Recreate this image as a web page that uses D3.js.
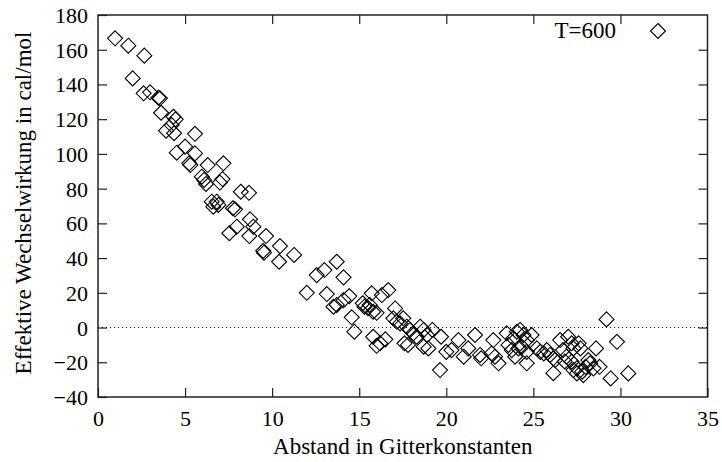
<!DOCTYPE html>
<html lang="de">
<head>
<meta charset="UTF-8">
<title>Effektive Wechselwirkung</title>
<script src="https://d3js.org/d3.v7.min.js"></script>
<style>
  body { margin: 0; background: #fff; }
  text { font-family: "Liberation Serif", "DejaVu Serif", serif; fill: #000; }
</style>
</head>
<body>
<svg width="722" height="462"></svg>
<script>
// abstand (gitterkonstanten) and wechselwirkung (cal/mol)
var abstand = [
  0.98, 1.74, 2.66, 1.99, 2.62, 2.99, 3.47, 3.56, 3.62, 4.33,
  4.46, 4.23, 3.91, 4.37, 5.57, 4.52, 5.0, 5.57, 5.24, 5.3,
  6.3, 7.2, 5.96, 6.09, 7.15, 6.2, 7.0, 8.2, 8.67, 6.53,
  6.82, 6.91, 6.62, 7.87, 7.75, 8.73, 7.97, 8.92, 7.54, 8.69,
  9.65, 10.45, 9.49, 9.53, 11.26, 10.4, 13.71, 13.0, 12.56, 14.1,
  11.99, 13.14, 13.71, 13.52, 14.43, 14.1, 15.2, 15.3, 15.5, 15.6,
  15.72, 16.3, 16.67, 16.0, 15.8, 17.06, 14.57, 14.72, 15.8, 16.2,
  16.5, 16.0, 16.96, 17.16, 17.35, 17.53, 17.73, 17.6, 17.92, 18.1,
  18.3, 18.5, 18.7, 18.9, 19.2, 17.8, 18.7, 18.97, 19.7, 19.64,
  20.0, 20.3, 20.7, 21.0, 21.65, 21.26, 21.94, 22.0, 22.7, 22.6,
  22.8, 23.0, 23.47, 23.85, 24.05, 24.24, 24.43, 24.62, 24.9, 23.57,
  23.76, 23.95, 24.14, 24.34, 24.62, 24.62, 25.2, 25.4, 25.6, 25.77,
  25.96, 26.15, 26.15, 26.25, 26.54, 27.0, 27.2, 26.7, 26.9, 27.2,
  27.5, 29.2, 29.8, 28.6, 29.44, 30.45, 27.3, 27.6, 27.7, 26.8,
  27.3, 27.5, 27.8, 28.0, 28.26, 28.45, 28.8, 28.16, 27.87
];
var wechselwirkung = [
  166.6, 162.3, 156.6, 143.5, 134.9, 135.5, 132.4, 132.0, 123.7, 121.4,
  119.9, 116.6, 113.4, 111.9, 111.6, 100.7, 104.2, 100.3, 94.6, 93.6,
  93.6, 94.6, 86.9, 85.0, 85.5, 82.7, 83.5, 78.2, 77.6, 72.5,
  72.5, 70.6, 69.6, 68.1, 68.7, 62.3, 58.1, 58.1, 54.3, 52.7,
  52.7, 46.9, 44.2, 43.1, 41.8, 37.9, 37.9, 33.1, 30.2, 28.9,
  20.0, 19.3, 13.0, 12.0, 18.1, 15.8, 14.0, 12.0, 11.2, 13.0,
  19.7, 18.7, 21.6, 8.5, 9.1, 11.0, 5.9, -2.4, -5.3, -9.1,
  -6.8, -10.5, 5.3, 3.3, 2.4, 5.3, 0.5, -9.1, -1.4, -3.3,
  -5.3, 0.5, -1.4, -4.3, -1.4, -10.0, -11.0, -12.0, -5.3, -24.5,
  -14.0, -13.0, -7.2, -16.8, -4.3, -12.0, -15.8, -17.7, -7.2, -14.9,
  -16.8, -20.6, -3.3, -6.2, -2.4, -1.4, -4.3, -7.2, -4.3, -10.0,
  -13.0, -16.8, -12.0, -11.0, -14.0, -20.6, -12.0, -14.0, -14.9, -13.0,
  -15.8, -17.7, -26.3, -18.7, -7.2, -5.3, -9.1, -13.0, -16.8, -19.7,
  -23.5, 4.7, -8.2, -12.0, -29.3, -26.4, -12.0, -9.1, -12.0, -19.5,
  -24.5, -26.4, -25.4, -22.6, -20.6, -23.5, -22.6, -18.7, -27.4
];
var xTicks = [0, 5, 10, 15, 20, 25, 30, 35];
var yTicks = [-40, -20, 0, 20, 40, 60, 80, 100, 120, 140, 160, 180];
var legendLabel = "T=600";

var margin = {top: 15, right: 14.5, bottom: 65, left: 98};
var width = 722 - margin.left - margin.right;
var height = 462 - margin.top - margin.bottom;

var svg = d3.select("svg");
var g = svg.append("g").attr("transform", "translate(" + margin.left + "," + margin.top + ")");

var x = d3.scaleLinear().domain([0, 35]).range([0, width]);
var y = d3.scaleLinear().domain([-40, 180]).range([height, 0]);

var tickLen = 9;

// axes with inward ticks (also mirrored on top/right)
var axBottom = g.append("g").attr("transform", "translate(0," + height + ")")
  .call(d3.axisBottom(x).tickValues(xTicks).tickSize(-tickLen).tickPadding(13));
var axLeft = g.append("g")
  .call(d3.axisLeft(y).tickValues(yTicks).tickSize(-tickLen).tickPadding(10));
var axTop = g.append("g")
  .call(d3.axisTop(x).tickValues(xTicks.slice(1, -1)).tickSize(-tickLen).tickFormat(""));
var axRight = g.append("g").attr("transform", "translate(" + width + ",0)")
  .call(d3.axisRight(y).tickValues(yTicks.slice(1, -1)).tickSize(-tickLen).tickFormat(""));

[axBottom, axLeft, axTop, axRight].forEach(function(a) {
  a.select(".domain").remove();
  a.selectAll("line").attr("stroke", "#222").attr("stroke-width", 1.2);
  a.selectAll("text").style("font-family", "'Liberation Serif', serif").style("font-size", "22px").attr("fill", "#000");
});
axLeft.selectAll("text").attr("dy", "0.34em");
axBottom.selectAll("text").attr("dy", "0.71em");

// zero line
g.append("line")
  .attr("x1", x(0)).attr("x2", x(35))
  .attr("y1", y(0)).attr("y2", y(0))
  .attr("stroke", "#000").attr("stroke-width", 1)
  .attr("stroke-dasharray", "1,3");

// frame
g.append("rect")
  .attr("x", 0).attr("y", 0).attr("width", width).attr("height", height)
  .attr("fill", "none").attr("stroke", "#222").attr("stroke-width", 1.5);

var diamond = "M0,-7.5L7.5,0L0,7.5L-7.5,0Z";

g.append("g").selectAll("path")
  .data(d3.range(abstand.length))
  .enter().append("path")
  .attr("d", diamond)
  .attr("transform", function(i) { return "translate(" + x(abstand[i]) + "," + y(wechselwirkung[i]) + ")"; })
  .attr("fill", "none")
  .attr("stroke", "#000")
  .attr("stroke-width", 1.1);

// legend
g.append("text")
  .attr("x", 518).attr("y", 23)
  .attr("text-anchor", "end")
  .style("font-size", "23px")
  .text(legendLabel);
g.append("path")
  .attr("d", diamond)
  .attr("transform", "translate(560,16)")
  .attr("fill", "none").attr("stroke", "#000").attr("stroke-width", 1.1);

// axis titles
svg.append("text")
  .attr("x", margin.left + width / 2).attr("y", 454)
  .attr("text-anchor", "middle")
  .style("font-size", "23px")
  .text("Abstand in Gitterkonstanten");
svg.append("text")
  .attr("transform", "translate(31,203) rotate(-90)")
  .attr("text-anchor", "middle")
  .style("font-size", "23px")
  .text("Effektive Wechselwirkung in cal/mol");
</script>
</body>
</html>
